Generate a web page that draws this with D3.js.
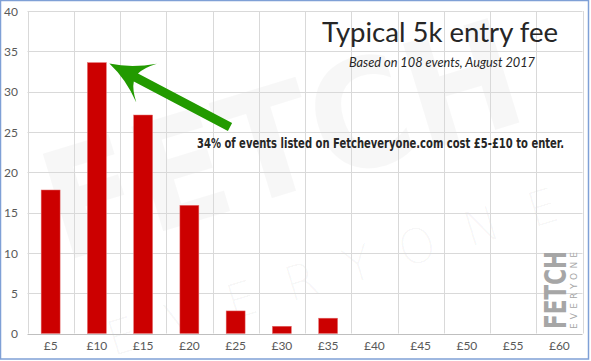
<!DOCTYPE html>
<html><head><meta charset="utf-8">
<script src="https://cdn.jsdelivr.net/npm/d3@7"></script>
<style>html,body{margin:0;padding:0;background:#fff;}svg{display:block;}</style>
</head><body>
<script>
const categories = ["£5","£10","£15","£20","£25","£30","£35","£40","£45","£50","£55","£60"];
const values = [17.8, 33.6, 27.1, 15.9, 2.8, 0.9, 1.9, 0, 0, 0, 0, 0];
const yTicks = [0,5,10,15,20,25,30,35,40];
const title = "Typical 5k entry fee";
const subtitle = "Based on 108 events, August 2017";
const note = "34% of events listed on Fetcheveryone.com cost £5-£10 to enter.";

const W = 591, H = 361;
const svg = d3.select("body").append("svg").attr("width", W).attr("height", H);
svg.append("rect").attr("x",0).attr("y",0).attr("width",W).attr("height",H).attr("fill","#fff");

// faint watermark
const wm = svg.append("g").attr("transform","translate(300,200) rotate(-17)");
wm.append("text").attr("x",0).attr("y",-10).attr("text-anchor","middle")
  .attr("font-family","DejaVu Sans").attr("font-weight","bold").attr("font-size",150)
  .attr("fill","#000").attr("fill-opacity",0.03).attr("textLength",490).attr("lengthAdjust","spacingAndGlyphs").text("FETCH");
wm.append("text").attr("x",10).attr("y",95).attr("text-anchor","middle")
  .attr("font-family","DejaVu Sans").attr("font-weight","200").attr("font-size",48)
  .attr("fill","#000").attr("fill-opacity",0.03).attr("textLength",470).attr("lengthAdjust","spacing").text("EVERYONE");

const x = d3.scaleBand().domain(categories).range([27.5, 582.5]).paddingInner(0.59).paddingOuter(0.295);
const y = d3.scaleLinear().domain([0,40]).range([333.5, 11]);

// horizontal gridlines
svg.append("g").selectAll("line").data(yTicks).join("line")
  .attr("x1",27.5).attr("x2",582.5)
  .attr("y1",d=>Math.round(y(d))+0.5).attr("y2",d=>Math.round(y(d))+0.5)
  .attr("stroke",d=>d===0?"#bfbfbf":"#d9d9d9").attr("stroke-width",1);
// vertical gridlines
const step = x.step();
const vx = d3.range(categories.length+1).map(i => 27.5 + i*step);
svg.append("g").selectAll("line").data(vx).join("line")
  .attr("x1",d=>Math.round(d)+0.5).attr("x2",d=>Math.round(d)+0.5)
  .attr("y1",y(40)).attr("y2",y(0))
  .attr("stroke","#d9d9d9").attr("stroke-width",1);

// small logo
const logo = svg.append("g");
logo.append("text").attr("transform","translate(566,329) rotate(-90)")
  .attr("font-family","DejaVu Sans Condensed, DejaVu Sans").attr("font-weight","bold").attr("font-size",30)
  .attr("fill","#a6a6a6").attr("textLength",78).attr("lengthAdjust","spacingAndGlyphs").text("FETCH");
logo.append("text").attr("transform","translate(576.5,329) rotate(-90)")
  .attr("font-family","DejaVu Sans").attr("font-size",9)
  .attr("fill","#a6a6a6").attr("textLength",77).attr("lengthAdjust","spacing").text("EVERYONE");

// bars
svg.append("g").selectAll("rect").data(values).join("rect")
  .attr("x",(d,i)=>x(categories[i])).attr("width",x.bandwidth())
  .attr("y",d=>y(d)).attr("height",d=>y(0)-y(d))
  .attr("fill","#cc0000").attr("stroke","#e57373").attr("stroke-width",0.5);

// y axis labels
const yAxis = d3.axisLeft(y).tickValues(yTicks).tickSize(0).tickPadding(0);
const ya = svg.append("g").attr("transform","translate(18,0)").call(yAxis);
ya.select(".domain").remove();
ya.selectAll("text").attr("font-family","Lato, 'Open Sans', sans-serif").attr("font-size",12).attr("fill","#595959").attr("dy","0.35em");

// x axis labels
const xAxis = d3.axisBottom(x).tickSize(0).tickPadding(0);
const xa = svg.append("g").attr("transform","translate(0,341)").call(xAxis);
xa.select(".domain").remove();
xa.selectAll("text").attr("font-family","Lato, 'Open Sans', sans-serif").attr("font-size",12).attr("fill","#595959").attr("dy","0.75em");

// title
svg.append("text").attr("x",440).attr("y",42).attr("text-anchor","middle")
  .attr("font-family","Lato, sans-serif").attr("font-size",26).attr("fill","#262626")
  .attr("textLength",236).attr("lengthAdjust","spacingAndGlyphs").text(title);
svg.append("text").attr("x",442).attr("y",67).attr("text-anchor","middle")
  .attr("font-family","Lato, sans-serif").attr("font-style","italic").attr("font-size",13).attr("fill","#262626")
  .attr("textLength",186).attr("lengthAdjust","spacingAndGlyphs").text(subtitle);

// annotation text
svg.append("text").attr("x",197).attr("y",148)
  .attr("font-family","'DejaVu Sans Condensed', 'DejaVu Sans', sans-serif").attr("font-weight","bold").attr("font-size",14)
  .attr("fill","#262626").attr("textLength",367).attr("lengthAdjust","spacingAndGlyphs").text(note);

// arrow anchored at top-right of the £10 bar
const tipX = x("£10") + x.bandwidth() + 3, tipY = y(values[1]) + 1;
const tail = [230, 127];
const ang = Math.atan2(tail[1]-tipY, tail[0]-tipX);
const len = Math.hypot(tail[0]-tipX, tail[1]-tipY);
const hw = 4.5;
const p = d3.path();
p.moveTo(0,0);
p.quadraticCurveTo(22,-6,42,-22);
p.quadraticCurveTo(32,-12,30,-hw);
p.lineTo(len,-hw);
p.lineTo(len,hw);
p.lineTo(30,hw);
p.quadraticCurveTo(32,12,42,22);
p.quadraticCurveTo(22,6,0,0);
p.closePath();
svg.append("path").attr("d",p.toString())
  .attr("transform",`translate(${tipX},${tipY}) rotate(${ang*180/Math.PI})`)
  .attr("fill","#229a00");

// border
svg.append("rect").attr("x",0.5).attr("y",0.5).attr("width",588).attr("height",358.5)
  .attr("fill","none").attr("stroke","#7fa0d6").attr("stroke-width",1.5);
</script>
</body></html>
